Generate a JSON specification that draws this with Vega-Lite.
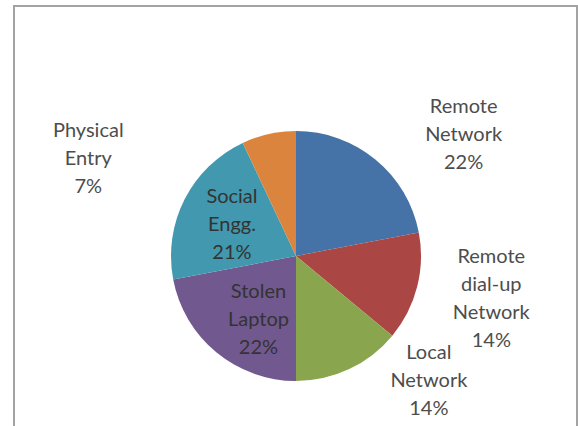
{
  "$schema": "https://vega.github.io/schema/vega-lite/v6.json",
  "width": 563,
  "height": 422,
  "autosize": {"type": "none"},
  "padding": {"left": 14, "top": 6, "right": 1, "bottom": -2},
  "background": "white",
  "view": {"stroke": "#a3a3a3", "strokeWidth": 2, "fill": "white"},
  "config": {"view": {"stroke": "#a3a3a3", "strokeWidth": 2}},
  "data": {
    "values": [
      {"idx": 1, "category": "Remote Network", "label": "Remote\nNetwork\n22%", "value": 22},
      {"idx": 2, "category": "Remote dial-up Network", "label": "Remote\ndial-up\nNetwork\n14%", "value": 14},
      {"idx": 3, "category": "Local Network", "label": "Local\nNetwork\n14%", "value": 14},
      {"idx": 4, "category": "Stolen Laptop", "label": "Stolen\nLaptop\n22%", "value": 22},
      {"idx": 5, "category": "Social Engg.", "label": "Social\nEngg.\n21%", "value": 21},
      {"idx": 6, "category": "Physical Entry", "label": "Physical\nEntry\n7%", "value": 7}
    ]
  },
  "encoding": {
    "theta": {"field": "value", "type": "quantitative", "stack": true},
    "order": {"field": "idx", "type": "quantitative"}
  },
  "layer": [
    {
      "mark": {"type": "arc", "radius": 125, "xOffset": 0.5, "yOffset": 39},
      "encoding": {
        "color": {
          "field": "category",
          "type": "nominal",
          "scale": {
            "domain": ["Remote Network", "Remote dial-up Network", "Local Network", "Stolen Laptop", "Social Engg.", "Physical Entry"],
            "range": ["#4572A7", "#AA4643", "#89A54E", "#71588F", "#4198AF", "#DB843D"]
          },
          "legend": null
        }
      }
    },
    {
      "mark": {"type": "text", "radius": 150, "dx": 72, "dy": -33, "xOffset": 0.5, "yOffset": 39, "font": "Lato", "fontSize": 20, "lineHeight": 28, "lineBreak": "\n", "align": "center", "baseline": "middle", "fill": "#4d4d4d"},
      "encoding": {"text": {"condition": {"test": "datum.category === 'Remote Network'", "field": "label", "type": "nominal"}, "value": ""}}
    },
    {
      "mark": {"type": "text", "radius": 150, "dx": 50, "dy": -36, "xOffset": 0.5, "yOffset": 39, "font": "Lato", "fontSize": 20, "lineHeight": 28, "lineBreak": "\n", "align": "center", "baseline": "middle", "fill": "#4d4d4d"},
      "encoding": {"text": {"condition": {"test": "datum.category === 'Remote dial-up Network'", "field": "label", "type": "nominal"}, "value": ""}}
    },
    {
      "mark": {"type": "text", "radius": 150, "dx": 69, "dy": -39, "xOffset": 0.5, "yOffset": 39, "font": "Lato", "fontSize": 20, "lineHeight": 28, "lineBreak": "\n", "align": "center", "baseline": "middle", "fill": "#4d4d4d"},
      "encoding": {"text": {"condition": {"test": "datum.category === 'Local Network'", "field": "label", "type": "nominal"}, "value": ""}}
    },
    {
      "mark": {"type": "text", "radius": 150, "dx": -175, "dy": 21, "xOffset": 0.5, "yOffset": 39, "font": "Lato", "fontSize": 20, "lineHeight": 28, "lineBreak": "\n", "align": "center", "baseline": "middle", "fill": "#4d4d4d"},
      "encoding": {"text": {"condition": {"test": "datum.category === 'Physical Entry'", "field": "label", "type": "nominal"}, "value": ""}}
    },
    {
      "mark": {"type": "text", "radius": 73, "dx": 9, "dy": -20, "xOffset": 0.5, "yOffset": 39, "font": "Lato", "fontSize": 20, "lineHeight": 28, "lineBreak": "\n", "align": "center", "baseline": "middle", "fill": "#333333"},
      "encoding": {"text": {"condition": {"test": "datum.category === 'Stolen Laptop'", "field": "label", "type": "nominal"}, "value": ""}}
    },
    {
      "mark": {"type": "text", "radius": 73, "dx": 1, "dy": -26, "xOffset": 0.5, "yOffset": 39, "font": "Lato", "fontSize": 20, "lineHeight": 28, "lineBreak": "\n", "align": "center", "baseline": "middle", "fill": "#333333"},
      "encoding": {"text": {"condition": {"test": "datum.category === 'Social Engg.'", "field": "label", "type": "nominal"}, "value": ""}}
    }
  ]
}
